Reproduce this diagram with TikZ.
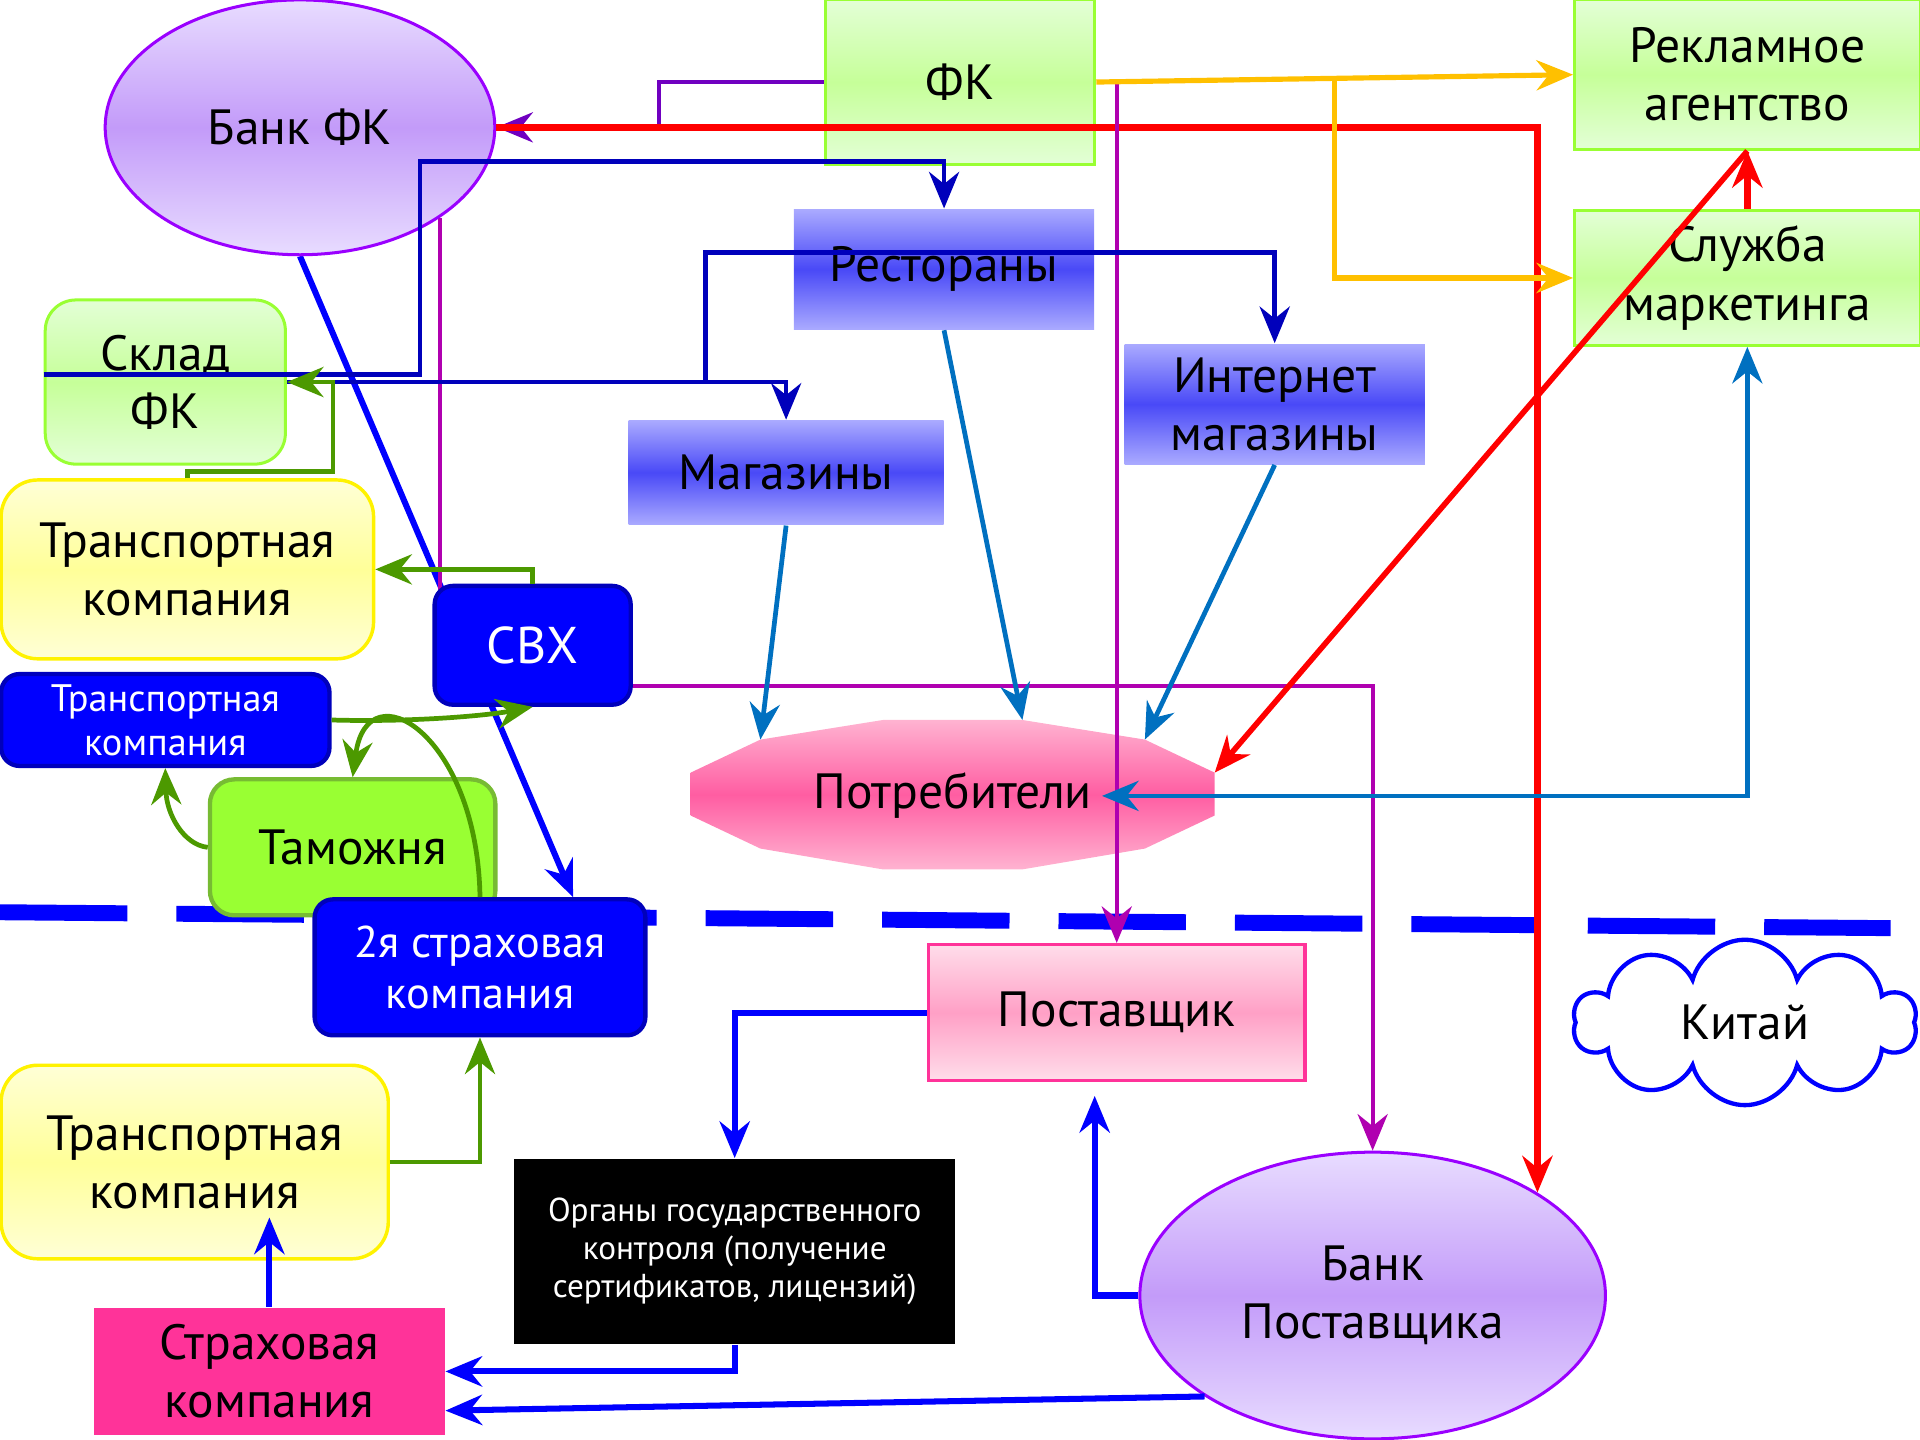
\documentclass[tikz,border=0pt]{standalone}
\usepackage{fontspec}
\setmainfont{PT Sans}
\usepackage{tikz}
\usetikzlibrary{arrows.meta,shapes.geometric,shapes.symbols,calc}
\definecolor{lilac}{HTML}{C39BF9}
\definecolor{lilacl}{HTML}{E8DCFF}
\definecolor{lilacb}{HTML}{9A00FF}
\definecolor{grnl}{HTML}{E3FFD6}
\definecolor{grnm}{HTML}{C6FF99}
\definecolor{grnb}{HTML}{99FF33}
\definecolor{bluel}{HTML}{AAAAFF}
\definecolor{bluem}{HTML}{4949F7}
\definecolor{yell}{HTML}{FFFFD6}
\definecolor{yelm}{HTML}{FFFF99}
\definecolor{pinkl}{HTML}{FFB3D1}
\definecolor{pinkm}{HTML}{FF5DA2}
\definecolor{supl}{HTML}{FFDDEA}
\definecolor{supm}{HTML}{FFA0C6}
\definecolor{hotpink}{HTML}{FF3399}
\definecolor{custgrn}{HTML}{99FF33}
\definecolor{custb}{HTML}{77BB33}
\definecolor{arrgrn}{HTML}{4C9900}
\definecolor{arrmag}{HTML}{B000B0}
\definecolor{arrpur}{HTML}{7000C0}
\definecolor{arrorg}{HTML}{FFC000}
\definecolor{arrsteel}{HTML}{0070C0}
\definecolor{arrdark}{HTML}{0000BB}
\pgfdeclarelayer{back}
\pgfsetlayers{back,main}

\begin{document}
\begin{tikzpicture}[x=0.01cm,y=-0.01cm,>={Stealth[length=8.5pt,width=7pt,inset=2.8pt]},
  every node/.style={align=center,inner sep=0pt,font=\fontsize{11.5}{13.5}\selectfont},
  bank/.style={ellipse,draw=lilacb,line width=0.7pt,top color=lilacl,bottom color=lilacl,middle color=lilac},
  greenbox/.style={rectangle,draw=grnb,line width=0.7pt,top color=grnl,bottom color=grnl,middle color=grnm},
  bluebox/.style={rectangle,top color=bluel,bottom color=bluel,middle color=bluem},
  yellowbox/.style={rectangle,rounded corners=0.3cm,draw=yellow,line width=0.8pt,top color=yell,bottom color=yell,middle color=yelm},
  darkbox/.style={rectangle,rounded corners=0.15cm,draw=arrdark,line width=1pt,fill=blue,text=white},
  link/.style={->,line width=1.1pt}]
\useasboundingbox (0,0) rectangle (1568,1176);

    % The firm and its partners
	\node [bank,minimum width=3.18cm,minimum height=2.08cm] at (245,104) (bankFK) {Банк ФК};
	\node [greenbox,minimum width=2.2cm,minimum height=1.34cm] at (784,67) (fk) {ФК};
	\node [greenbox,minimum width=2.82cm,minimum height=1.22cm] at (1427,61) (adv) {Рекламное\\агентство};
	\node [greenbox,minimum width=2.82cm,minimum height=1.1cm] at (1427,227) (mkt) {Служба\\маркетинга};
	\node [bluebox,minimum width=2.45cm,minimum height=0.98cm] at (771,220) (rest) {Рестораны};
	\node [bluebox,minimum width=2.45cm,minimum height=0.98cm] at (1041,330) (inet) {Интернет\\магазины};
	\node [bluebox,minimum width=2.57cm,minimum height=0.85cm] at (642,386) (shops) {Магазины};
	\node [greenbox,rounded corners=0.25cm,minimum width=1.96cm,minimum height=1.34cm] at (135,312) (store) {Склад\\ФК};
	\node [yellowbox,minimum width=3.04cm,minimum height=1.46cm] at (153,465) (trA) {Транспортная\\компания};
	\node [darkbox,minimum width=1.6cm,minimum height=0.97cm,font=\fontsize{12}{14}\selectfont] at (435,527) (svx) {СВХ};
	\node [darkbox,minimum width=2.68cm,minimum height=0.75cm,font=\fontsize{8.9}{10.2}\selectfont] at (135,588) (trB) {Транспортная\\компания};
	\node [rectangle,rounded corners=0.2cm,draw=custb,line width=1pt,fill=custgrn,minimum width=2.33cm,minimum height=1.11cm] at (288,692) (cust) {Таможня};

	% Consumers
	\shade [top color=pinkl,bottom color=pinkl,middle color=pinkm] (564,631) -- (621,604) -- (721,588) -- (835,588) -- (935,604) -- (992,631) -- (992,666) -- (935,693) -- (835,710) -- (721,710) -- (621,693) -- (564,666) -- cycle;
	\node at (778,650) (cons) {Потребители};
	\coordinate (consA) at (621,604);
	\coordinate (consB) at (835,588);
	\coordinate (consC) at (935,604);
	\coordinate (consE) at (992,631);
	\coordinate (consIn) at (900,650);

	% Supplier side
	\node [darkbox,minimum width=2.7cm,minimum height=1.11cm,font=\fontsize{10.3}{11.7}\selectfont] at (392,790) (ins2) {2я страховая\\компания};
	\node [rectangle,draw=hotpink,line width=0.8pt,top color=supl,bottom color=supl,middle color=supm,minimum width=3.07cm,minimum height=1.11cm] at (912,827) (sup) {Поставщик};
	\node [cloud,cloud puffs=10,aspect=2.1,draw=blue,line width=1pt,fill=white,minimum width=2.8cm,minimum height=1.35cm] at (1425,835) (china) {Китай};
	\node [rectangle,fill=black,text=white,minimum width=3.6cm,minimum height=1.51cm,font=\fontsize{7.7}{8.8}\selectfont] at (600,1022) (gov) {Органы государственного\\контроля (получение\\сертификатов, лицензий)};
	\node [bank,minimum width=3.8cm,minimum height=2.34cm] at (1121,1058) (bankS) {Банк\\Поставщика};
	\node [yellowbox,minimum width=3.16cm,minimum height=1.58cm] at (159,949) (trC) {Транспортная\\компания};
	\node [rectangle,fill=hotpink,minimum width=2.86cm,minimum height=1.04cm] at (220,1120) (insA) {Страховая\\компания};
	\coordinate (split) at (576,312);
	\coordinate (supIn) at (894,895);

	% Border and edges under the boxes
	\begin{pgfonlayer}{back}
	\draw [line width=3.7pt,blue,dash pattern=on 1.04cm off 0.4cm] (0,745) -- (1544,758);
	\draw [link,blue,line width=1.4pt] (bankFK.south) -- (ins2.37);
	\draw [link,arrmag,line width=0.9pt] (bankFK.-33) |- (1121,560) -- (bankS.north);
	\end{pgfonlayer}

	% Money
	\draw [link,arrpur,line width=1pt] (fk.west) -| (538,104) -- (bankFK.east);
	\draw [link,red,line width=1.6pt] (bankFK.east) -| (bankS.32);
	\draw [link,arrmag,line width=0.9pt] (fk.east -| sup.north) -- (sup.north);

	% Advertising
	\coordinate (orgSplit) at ($(fk.east)!0.5!(adv.west)$);
	\draw [link,arrorg,line width=1.2pt] (fk.east) -- (adv.west);
	\draw [link,arrorg,line width=1.2pt] (orgSplit) |- (mkt.west);
	\draw [link,red,line width=1.6pt] (mkt.north) -- (adv.south);
	\draw [link,red,line width=1.3pt] (adv.south) -- (consE);

	% Goods
	\draw [link,arrdark] ([yshift=0.06cm]store.west) -| (343,132) -| (rest.north);
	\draw [link,arrdark] (store.east) -| (shops.north);
	\draw [link,arrdark] (split) -- (576,206) -| (inet.north);
	\draw [link,arrgrn] (trA.north) |- (272,385) |- (store.east);
	\draw [link,arrgrn] (svx.north) |- (trA.east);
	\draw [link,arrgrn] (trB.east) .. controls (340,590) and (400,584) .. (svx.south);
	\draw [link,arrgrn] (ins2.north) .. controls (390,600) and (300,545) .. (cust.north);
	\draw [link,arrgrn] (cust.west) .. controls (150,690) and (136,665) .. (trB.south);
	\draw [link,arrgrn] (trC.east) -| (ins2.south);

	% Sales
	\draw [link,arrsteel] (shops.south) -- (consA);
	\draw [link,arrsteel] (rest.south) -- (consB);
	\draw [link,arrsteel] (inet.south) -- (consC);
	\draw [link,arrsteel,<->] (consIn) -| (mkt.south);

	% Supplier edges
	\draw [link,blue,line width=1.4pt] (sup.west) -| (gov.north);
	\draw [link,blue,line width=1.4pt] (gov.south) |- (insA.east);
	\draw [link,blue,line width=1.4pt] (bankS.211) -- ([yshift=-0.32cm]insA.east);
	\draw [link,blue,line width=1.4pt] (bankS.west) -| (supIn);
	\draw [link,blue,line width=1.4pt] (insA.north) -- ++(0,-73);

\end{tikzpicture}
\end{document}
